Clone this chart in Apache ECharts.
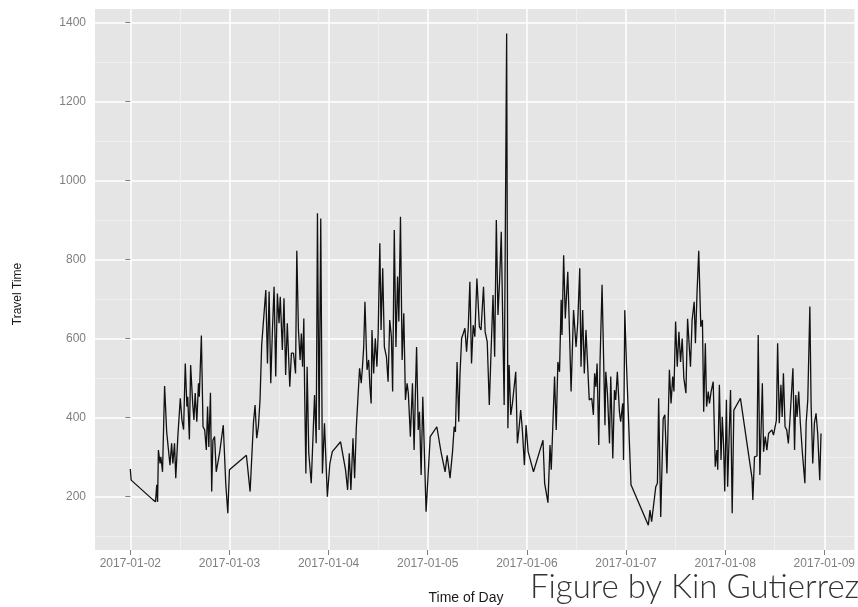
<!DOCTYPE html>
<html>
<head>
<meta charset="utf-8">
<script src="https://cdn.jsdelivr.net/npm/echarts@6/dist/echarts.min.js"></script>
<style>
  html, body { margin: 0; padding: 0; background: #fff; }
  #main { width: 858px; height: 607px; }
</style>
</head>
<body>
<div id="main"></div>
<script>
// hours since 2017-01-02 00:00
var hours = [
  0, 0.2, 5.5, 6.1, 6.4, 6.6, 6.8, 7.2, 7.4, 7.8, 8.3, 8.8, 9.2, 9.6, 10.0, 10.3, 10.7, 11.0, 11.5, 12.1,
  12.5, 12.9, 13.3, 13.7, 13.9, 14.3, 14.6, 15.1, 15.4, 15.7, 16.1, 16.5, 16.7, 17.2, 17.6, 18.0, 18.4, 18.7, 19.0, 19.4,
  19.7, 20.0, 20.4, 20.8, 21.6, 22.0, 22.5, 23.1, 23.6, 24.0, 28.1, 29.0, 29.8, 30.2, 30.6, 31.0, 31.4, 31.8, 32.2, 32.8,
  33.2, 33.6, 34.0, 34.4, 34.8, 35.2, 35.6, 36.0, 36.3, 36.8, 37.2, 37.6, 38.0, 38.6, 39.0, 39.5, 40.0, 40.3, 40.7, 41.1,
  41.4, 41.7, 42.0, 42.2, 42.5, 42.8, 43.2, 43.5, 43.8, 44.6, 45.0, 45.3, 45.7, 46.1, 46.5, 47.0, 47.7, 48.3, 48.9, 50.9,
  52.1, 52.6, 53.0, 53.4, 53.9, 54.3, 54.7, 55.5, 55.9, 56.2, 56.5, 56.8, 57.3, 57.7, 58.0, 58.3, 58.5, 58.9, 59.3, 59.7,
  60.0, 60.4, 60.7, 61.1, 61.5, 62.0, 62.4, 62.8, 63.2, 63.5, 63.9, 64.3, 64.7, 65.0, 65.4, 65.8, 66.2, 66.6, 67.0, 67.3,
  67.8, 68.3, 68.7, 69.0, 69.3, 69.7, 70.0, 70.4, 70.8, 71.6, 72.6, 74.2, 75.2, 76.2, 76.7, 77.4, 78.0, 78.4, 78.7, 79.1,
  79.5, 79.8, 80.2, 80.6, 81.0, 81.4, 81.8, 82.2, 82.6, 83.0, 83.4, 83.9, 84.5, 84.9, 85.5, 85.9, 86.4, 86.9, 87.3, 87.8,
  88.2, 88.6, 89.0, 89.4, 89.8, 90.2, 90.5, 91.1, 91.4, 91.7, 92.1, 92.5, 92.9, 93.3, 93.7, 94.1, 94.5, 94.9, 95.4, 95.8,
  96.3, 97.6, 99.9, 100.3, 101.1, 101.6, 101.9, 102.7, 103.1, 103.5, 103.9, 104.3, 104.5, 104.9, 105.3, 105.9, 106.3, 106.7, 107.3, 107.9,
  108.3, 108.8, 109.1, 109.5, 109.9, 110.3, 111.1, 111.7, 112.1, 112.4, 112.7, 113.0, 113.4, 113.7, 114.2, 114.6, 114.9, 115.1, 115.5, 116.0,
  116.3, 116.8, 117.2, 117.5, 117.9, 118.4, 118.7, 119.2, 119.4, 119.7, 120.1, 121.2, 125.4, 125.8, 126.2, 127.2, 127.6, 127.9, 128.4, 129.0,
  129.4, 129.9, 130.5, 130.9, 131.3, 131.6, 132.0, 132.4, 132.8, 133.2, 133.6, 134.0, 134.5, 134.9, 135.6, 136.0, 136.5, 136.8, 137.2, 137.6,
  138.1, 138.5, 138.8, 139.2, 139.5, 139.9, 140.2, 140.6, 141.1, 141.6, 142.0, 142.2, 142.6, 143.0, 143.3, 143.6, 143.9, 144.3, 144.6, 145.3,
  145.7, 146.1, 147.7, 150.5, 150.7, 151.1, 151.7, 152.0, 152.4, 153.0, 153.3, 153.7, 154.1, 154.5, 154.9, 155.3, 155.7, 156.1, 156.4, 156.7,
  157.1, 157.5, 157.8, 158.1, 158.5, 158.9, 159.3, 159.7, 160.1, 160.4, 160.8, 161.1, 161.4, 161.8, 162.2, 162.7, 163.0, 163.3, 163.6, 164.0,
  164.2, 164.5, 164.8, 165.2, 165.6, 166.0, 166.4, 166.9, 167.2
];

var travelTime = [
  270, 242, 192, 187, 230, 187, 318, 284, 301, 263, 480, 364, 367, 280, 335, 284, 335, 247, 352, 449,
  394, 370, 537, 428, 453, 345, 533, 436, 394, 462, 390, 487, 453, 608, 377, 369, 318, 428, 326, 463,
  213, 343, 352, 263, 310, 308, 381, 234, 158, 268, 305, 213, 386, 432, 348, 377, 445, 584, 588, 723,
  537, 719, 487, 622, 731, 504, 714, 639, 706, 571, 702, 508, 639, 478, 563, 563, 512, 822, 622, 546,
  613, 529, 651, 466, 259, 529, 310, 310, 234, 457, 335, 917, 369, 904, 259, 386, 200, 284, 314, 339,
  268, 217, 310, 217, 348, 247, 373, 525, 487, 529, 579, 693, 521, 546, 478, 436, 622, 512, 601, 529,
  613, 841, 622, 778, 579, 554, 491, 647, 605, 466, 875, 579, 757, 643, 908, 546, 664, 445, 487, 462,
  352, 487, 318, 457, 579, 369, 415, 255, 453, 162, 352, 377, 314, 263, 305, 247, 314, 377, 364, 541,
  390, 508, 601, 613, 626, 567, 626, 744, 537, 634, 605, 752, 630, 622, 731, 617, 592, 432, 558, 710,
  554, 900, 660, 748, 870, 613, 432, 1372, 373, 533, 407, 436, 436, 516, 335, 373, 419, 369, 280, 381,
  314, 263, 343, 234, 185, 331, 268, 504, 369, 541, 516, 698, 609, 811, 651, 769, 622, 466, 672, 579,
  639, 778, 529, 672, 512, 622, 445, 449, 407, 512, 478, 537, 331, 537, 736, 537, 381, 516, 462, 335,
  504, 297, 470, 445, 516, 415, 390, 436, 293, 672, 537, 230, 128, 166, 137, 225, 234, 449, 149, 398,
  407, 259, 521, 436, 504, 466, 643, 529, 617, 541, 600, 500, 462, 650, 529, 647, 693, 588, 719, 822,
  630, 647, 415, 588, 428, 466, 436, 466, 491, 276, 318, 268, 483, 293, 402, 335, 213, 445, 225, 470,
  158, 419, 449, 247, 192, 301, 303, 609, 255, 487, 314, 352, 318, 360, 364, 369, 356, 377, 394, 588,
  386, 483, 402, 512, 377, 369, 335, 398, 402, 525, 318, 457, 402, 466, 386, 310, 314, 234, 386, 445,
  449, 681, 436, 284, 386, 411, 360, 242, 360
];

var xTicks = [0, 24, 48, 72, 96, 120, 144, 168];
var xTickLabels = ['2017-01-02', '2017-01-03', '2017-01-04', '2017-01-05',
                   '2017-01-06', '2017-01-07', '2017-01-08', '2017-01-09'];
var xMinor = [12, 36, 60, 84, 108, 132, 156];
var yTicks = [200, 400, 600, 800, 1000, 1200, 1400];
var yMinor = [100, 300, 500, 700, 900, 1100, 1300];

var chart = echarts.init(document.getElementById('main'));

var data = hours.map(function (h, i) { return [h, travelTime[i]]; });

var labelFont = 'Liberation Sans';
var xMin = -8.55, xMax = 175.3;
var yMin = 65.2, yMax = 1433.8;

var option = {
    animation: false,
    backgroundColor: '#ffffff',
    grid: {
        left: 95,
        right: 0,
        top: 9,
        bottom: 57,
        show: true,
        backgroundColor: '#e5e5e5',
        borderWidth: 0
    },
    xAxis: [{
        type: 'value',
        min: xMin,
        max: xMax,
        axisLine: { show: false },
        axisTick: {
            show: true,
            length: 5,
            customValues: xTicks,
            lineStyle: { color: '#7f7f7f', width: 1 }
        },
        axisLabel: {
            customValues: xTicks,
            margin: 8,
            color: '#7f7f7f',
            fontSize: 12,
            fontFamily: labelFont,
            formatter: function (v) {
                var i = xTicks.indexOf(v);
                return i >= 0 ? xTickLabels[i] : '';
            }
        },
        splitLine: { show: true, lineStyle: { color: '#ffffff', width: 1.5 } }
    }, {
        type: 'value',
        position: 'bottom',
        min: xMin,
        max: xMax,
        axisLine: { show: false },
        axisTick: { show: false, customValues: xMinor },
        axisLabel: { show: false },
        splitLine: { show: true, lineStyle: { color: '#f0f0f0', width: 1 } }
    }],
    yAxis: [{
        type: 'value',
        min: yMin,
        max: yMax,
        axisLine: { show: false },
        axisTick: {
            show: true,
            length: 5,
            customValues: yTicks,
            lineStyle: { color: '#7f7f7f', width: 1 }
        },
        axisLabel: {
            customValues: yTicks,
            margin: 9,
            color: '#7f7f7f',
            fontSize: 12,
            fontFamily: labelFont,
            formatter: function (v) { return String(v); }
        },
        splitLine: { show: true, lineStyle: { color: '#ffffff', width: 1.5 } }
    }, {
        type: 'value',
        position: 'left',
        min: yMin,
        max: yMax,
        axisLine: { show: false },
        axisTick: { show: false, customValues: yMinor },
        axisLabel: { show: false },
        splitLine: { show: true, lineStyle: { color: '#f0f0f0', width: 1 } }
    }],
    series: [{
        type: 'line',
        data: data,
        xAxisIndex: 0,
        yAxisIndex: 0,
        symbol: 'none',
        lineStyle: { color: '#111111', width: 1.3 },
        z: 5
    }],
    graphic: [{
        type: 'text',
        rotation: Math.PI / 2,
        x: 18, y: 294,
        style: {
            text: 'Travel Time',
            fontSize: 12,
            fontFamily: labelFont,
            fill: '#1a1a1a',
            align: 'center',
            verticalAlign: 'middle'
        }
    }, {
        type: 'text',
        x: 466, y: 598,
        style: {
            text: 'Time of Day',
            fontSize: 14,
            fontFamily: labelFont,
            fill: '#1a1a1a',
            align: 'center',
            verticalAlign: 'middle'
        }
    }, {
        type: 'text',
        x: 530, y: 587,
        style: {
            text: 'Figure by Kin Gutierrez',
            fontSize: 33,
            fontFamily: 'Lato',
            fontWeight: 300,
            fill: '#333333',
            align: 'left',
            verticalAlign: 'middle'
        }
    }]
};

chart.setOption(option);
</script>
</body>
</html>
